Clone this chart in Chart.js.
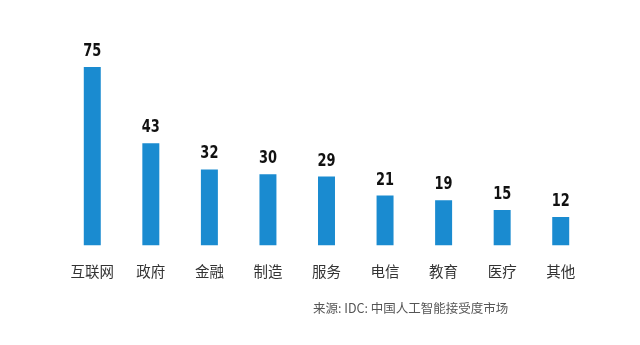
<!DOCTYPE html>
<html>
<head>
<meta charset="utf-8">
<script src="https://cdn.jsdelivr.net/npm/chart.js@4"></script>
<style>
  html, body { margin: 0; padding: 0; background: #ffffff; }
  #wrap { width: 640px; height: 345px; position: relative; }
</style>
</head>
<body>
<div id="wrap"><canvas id="c" width="640" height="345"></canvas></div>
<script>
const categories = ['互联网', '政府', '金融', '制造', '服务', '电信', '教育', '医疗', '其他'];
const values = [75, 43, 32, 30, 29, 21, 19, 15, 12];
const sourceNote = '来源: IDC: 中国人工智能接受度市场';

const barColor = '#1a8bd0';

// Draws each bar's value above it (narrowed digits), plus the source line below the chart.
const annotate = {
  id: 'annotate',
  afterDatasetsDraw(chart) {
    const ctx = chart.ctx;
    const meta = chart.getDatasetMeta(0);
    ctx.save();
    ctx.fillStyle = '#111111';
    ctx.font = 'bold 18px "DejaVu Sans", sans-serif';
    ctx.textAlign = 'center';
    ctx.textBaseline = 'alphabetic';
    const squeeze = 0.72;
    meta.data.forEach((bar, i) => {
      ctx.save();
      ctx.translate(bar.x, bar.y - 11);
      ctx.scale(squeeze, 1);
      ctx.fillText(String(values[i]), 0, 0);
      ctx.restore();
    });
    ctx.fillStyle = '#555555';
    ctx.font = '12.5px "Noto Sans CJK SC", sans-serif';
    ctx.textAlign = 'left';
    ctx.textBaseline = 'middle';
    ctx.fillText(sourceNote, 313, 308);
    ctx.restore();
  }
};

new Chart(document.getElementById('c'), {
  type: 'bar',
  data: {
    labels: categories,
    datasets: [{
      data: values,
      backgroundColor: barColor,
      borderWidth: 0,
      barPercentage: 0.29,
      categoryPercentage: 1.0
    }]
  },
  options: {
    responsive: false,
    animation: false,
    devicePixelRatio: 1,
    layout: { padding: { left: 63, right: 50, top: 67, bottom: 48 } },
    plugins: { legend: { display: false }, tooltip: { enabled: false } },
    scales: {
      x: {
        grid: { display: false, drawTicks: false },
        border: { display: false },
        ticks: {
          padding: 17,
          color: '#333333',
          font: { size: 14.5, family: '"Noto Sans CJK SC", sans-serif' }
        }
      },
      y: {
        display: false,
        min: 0,
        max: 75
      }
    }
  },
  plugins: [annotate]
});
</script>
</body>
</html>
